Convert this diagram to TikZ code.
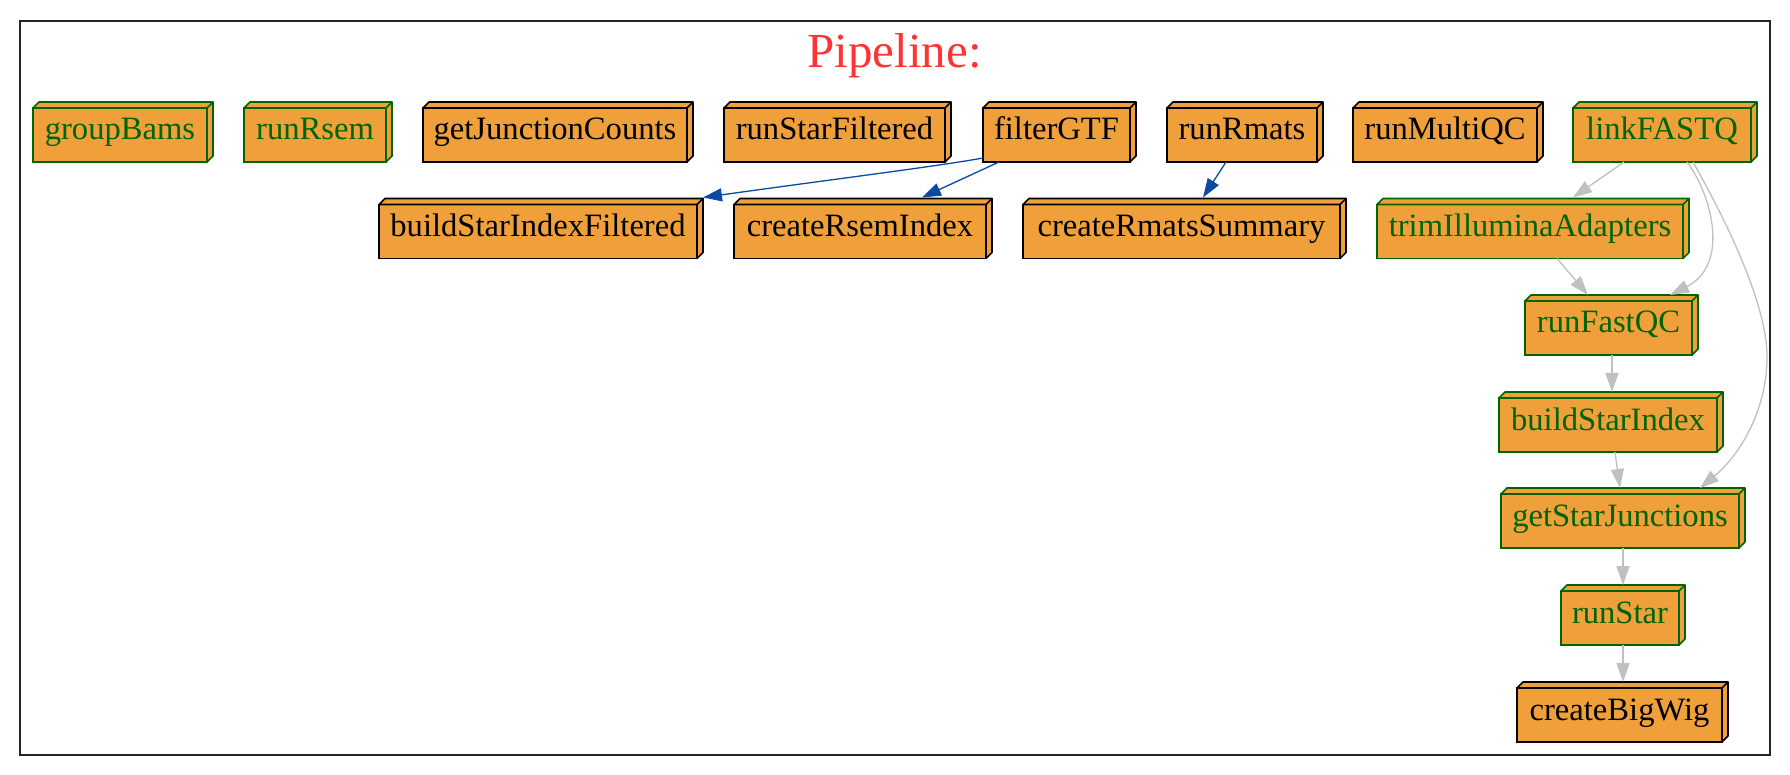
\documentclass[tikz,border=0pt]{standalone}
\usepackage{fontspec}
\setmainfont{Liberation Serif}
\usetikzlibrary{arrows.meta}
\definecolor{boxfill}{RGB}{239,160,58}
\definecolor{dkgreen}{RGB}{0,100,0}
\definecolor{edgegray}{RGB}{192,192,192}
\definecolor{edgeblue}{RGB}{10,74,160}
\definecolor{titlered}{RGB}{255,51,51}
\tikzset{
  task/.style={draw=black, fill=boxfill, line width=0.8pt, inner sep=0pt, outer sep=0pt,
    minimum height=27pt, text height=8pt, text depth=3pt,
    font=\fontsize{16.3}{19}\selectfont},
  done/.style={task, draw=dkgreen, text=dkgreen},
  flow/.style={line width=0.65pt, draw=edgegray, -{Triangle[length=9.5pt,width=6.5pt]}},
  blueflow/.style={flow, draw=edgeblue},
}
\newcommand{\drawbox}[2]{%
  \filldraw[fill=boxfill, draw=#2, line width=0.8pt, line join=round]
    (#1.north west) -- ++(6,-6) -- ([shift={(6,-6)}]#1.north east)
    -- ([shift={(6,-6)}]#1.south east) -- (#1.south east) -- (#1.north east) -- cycle;
  \draw[#2, line width=0.8pt] (#1.north east) -- ++(6,-6);
}
\begin{document}
\begin{tikzpicture}[x=0.5pt,y=-0.5pt]
\useasboundingbox (0,0) rectangle (1790,775);
\fill[white] (0,0) rectangle (1790,775);
\draw[line width=1pt, black!85] (20,21) rectangle (1770,755);
\node[anchor=base, text=titlered, font=\fontsize{24.5}{29}\selectfont] (title) at (894.5,68) {Pipeline:};

% row 1
\node[done, minimum width=87pt] (groupBams) at (120,135) {groupBams};
\node[done, minimum width=71pt] (runRsem) at (315,135) {runRsem};
\node[task, minimum width=132pt] (getJunctionCounts) at (555,135) {getJunctionCounts};
\node[task, minimum width=110.5pt] (runStarFiltered) at (834.5,135) {runStarFiltered};
\node[task, minimum width=73.5pt] (filterGTF) at (1056.5,135) {filterGTF};
\node[task, minimum width=75pt] (runRmats) at (1242,135) {runRmats};
\node[task, minimum width=92pt] (runMultiQC) at (1445,135) {runMultiQC};
\node[done, minimum width=89pt] (linkFASTQ) at (1662,135) {linkFASTQ};
% row 2
\node[task, minimum width=159pt] (buildStarIndexFiltered) at (538,231.5) {buildStarIndexFiltered};
\node[task, minimum width=126pt] (createRsemIndex) at (860,231.5) {createRsemIndex};
\node[task, minimum width=158.5pt] (createRmatsSummary) at (1181.5,231.5) {createRmatsSummary};
\node[done, minimum width=153pt] (trimIlluminaAdapters) at (1530,231.5) {trimIlluminaAdapters};
% column
\node[done, minimum width=83.5pt] (runFastQC) at (1608.5,328) {runFastQC};
\node[done, minimum width=109pt] (buildStarIndex) at (1608,425) {buildStarIndex};
\node[done, minimum width=119pt] (getStarJunctions) at (1620,521) {getStarJunctions};
\node[done, minimum width=59pt] (runStar) at (1620,618) {runStar};
\node[task, minimum width=102.5pt] (createBigWig) at (1619.5,715) {createBigWig};

\drawbox{groupBams}{dkgreen}
\drawbox{runRsem}{dkgreen}
\drawbox{getJunctionCounts}{black}
\drawbox{runStarFiltered}{black}
\drawbox{filterGTF}{black}
\drawbox{runRmats}{black}
\drawbox{runMultiQC}{black}
\drawbox{linkFASTQ}{dkgreen}
\drawbox{buildStarIndexFiltered}{black}
\drawbox{createRsemIndex}{black}
\drawbox{createRmatsSummary}{black}
\drawbox{trimIlluminaAdapters}{dkgreen}
\drawbox{runFastQC}{dkgreen}
\drawbox{buildStarIndex}{dkgreen}
\drawbox{getStarJunctions}{dkgreen}
\drawbox{runStar}{dkgreen}
\drawbox{createBigWig}{black}

% blue edges
\draw[blueflow] ([shift={(0,-4)}]filterGTF.south west) .. controls (940,166) and (820,181) .. ([shift={(6,-7)}]buildStarIndexFiltered.north east);
\draw[blueflow] ([shift={(-57.5,0)}]filterGTF.south) -- ([shift={(62,-7)}]createRsemIndex.north);
\draw[blueflow] ([shift={(-16,0)}]runRmats.south) -- ([shift={(21.5,-7)}]createRmatsSummary.north);

% gray edges
\draw[flow] ([shift={(-38,0)}]linkFASTQ.south) -- ([shift={(43,-7)}]trimIlluminaAdapters.north);
\draw[flow] ([shift={(27,0)}]trimIlluminaAdapters.south) -- ([shift={(-20.5,-6)}]runFastQC.north);
\draw[flow] ([shift={(25,0)}]linkFASTQ.south) .. controls (1712,195) and (1730,265) .. ([shift={(61.5,-6)}]runFastQC.north);
\draw[flow] ([shift={(31,0)}]linkFASTQ.south) .. controls (1720,210) and (1767,300) .. (1767,357)
  .. controls (1767,410) and (1740,455) .. ([shift={(80,-6)}]getStarJunctions.north);
\draw[flow] ([shift={(3.5,0)}]runFastQC.south) -- ([shift={(4,-6)}]buildStarIndex.north);
\draw[flow] ([shift={(7,0)}]buildStarIndex.south) -- ([shift={(0,-6)}]getStarJunctions.north);
\draw[flow] ([shift={(3,0)}]getStarJunctions.south) -- ([shift={(3,-6)}]runStar.north);
\draw[flow] ([shift={(3,0)}]runStar.south) -- ([shift={(3.5,-6)}]createBigWig.north);
\end{tikzpicture}
\end{document}
